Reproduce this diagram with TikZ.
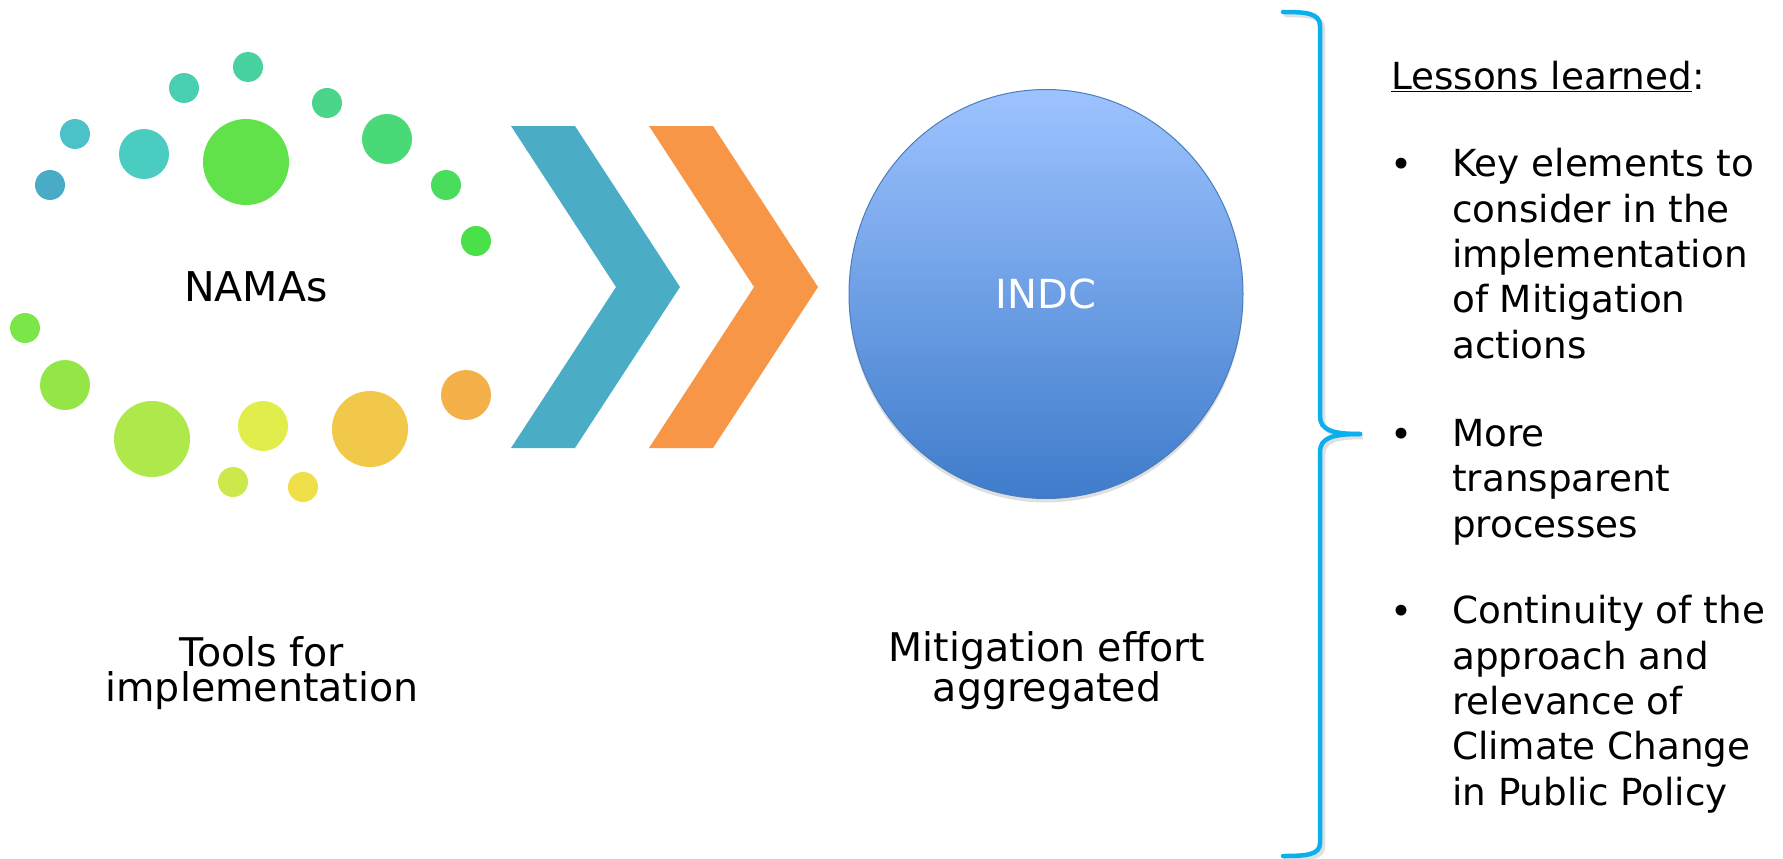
\documentclass[tikz,border=0pt]{standalone}
\usepackage{fontspec}
\setmainfont{DejaVu Sans}
\usetikzlibrary{positioning,shapes.geometric,shadows}

\definecolor{chevblue}{HTML}{4BACC6}
\definecolor{chevorange}{HTML}{F79646}
\definecolor{balltop}{HTML}{9DC3FF}
\definecolor{ballbottom}{HTML}{3F7CCB}
\definecolor{ballrim}{HTML}{4A7EBB}
\definecolor{bracecol}{HTML}{0AB0EE}

\tikzset{
  label/.style={inner sep=0pt, align=center, font=\fontsize{39.5}{35}\selectfont},
  listtext/.style={inner sep=0pt, anchor=base west, align=left, font=\fontsize{37.3}{45.3}\selectfont},
  indcball/.style={ellipse, minimum width=394pt, minimum height=409pt, draw=ballrim, line width=1pt,
    top color=balltop, bottom color=ballbottom, text=white, font=\fontsize{40}{40}\selectfont,
    drop shadow={shadow xshift=0pt, shadow yshift=-4pt, opacity=0.25}}
}

\begin{document}
\begin{tikzpicture}[x=1pt,y=-1pt]
  \useasboundingbox (0,0) rectangle (1783,859);

  % dots round NAMAs
  \fill[color={rgb,255:red,74;green,209;blue,160}] (248,67) circle (15pt);
  \fill[color={rgb,255:red,74;green,207;blue,178}] (184,88) circle (15pt);
  \fill[color={rgb,255:red,74;green,194;blue,200}] (75,134) circle (15pt);
  \fill[color={rgb,255:red,74;green,171;blue,198}] (50,185) circle (15pt);
  \fill[color={rgb,255:red,75;green,204;blue,192}] (144,154) circle (25pt);
  \fill[color={rgb,255:red,98;green,226;blue,74}] (246,162) circle (43pt);
  \fill[color={rgb,255:red,74;green,213;blue,138}] (327,103) circle (15pt);
  \fill[color={rgb,255:red,73;green,217;blue,119}] (387,139) circle (25pt);
  \fill[color={rgb,255:red,74;green,220;blue,92}] (446,185) circle (15pt);
  \fill[color={rgb,255:red,74;green,224;blue,74}] (476,241) circle (15pt);
  \fill[color={rgb,255:red,123;green,230;blue,71}] (25,328) circle (15pt);
  \fill[color={rgb,255:red,148;green,230;blue,72}] (65,385) circle (25pt);
  \fill[color={rgb,255:red,175;green,232;blue,74}] (152,439) circle (38pt);
  \fill[color={rgb,255:red,225;green,237;blue,74}] (263,426) circle (25pt);
  \fill[color={rgb,255:red,203;green,233;blue,74}] (233,482) circle (15pt);
  \fill[color={rgb,255:red,239;green,223;blue,73}] (303,487) circle (15pt);
  \fill[color={rgb,255:red,242;green,200;blue,74}] (370,429) circle (38pt);
  \fill[color={rgb,255:red,244;green,177;blue,74}] (466,395) circle (25pt);

  \node[label, font=\fontsize{41}{41}\selectfont] (namas) at (256,287) {NAMAs};

  % chevrons
  \fill[chevblue] (511,126) -- (575,126) -- (680,287) -- (575,448) -- (511,448) -- (616,287) -- cycle;
  \fill[chevorange] (649,126) -- (713,126) -- (818,287) -- (713,448) -- (649,448) -- (754,287) -- cycle;

  \node[indcball] (indc) at (1046,294) {INDC};

  % base of a two-line label is its last line
  \node[label, anchor=base] (tools) at (262,701) {Tools for\\implementation};
  \node[label, anchor=base] (effort) at (1047,701) {Mitigation effort\\aggregated};

  % brace, with a faint shadow
  \draw[black, opacity=0.12, line width=4.5pt, line cap=round, shift={(3,3)}]
    (1283,12) .. controls (1306,12) and (1320,13) .. (1320,26) -- (1320,416)
    .. controls (1320,430) and (1332,434) .. (1360,434)
    .. controls (1332,434) and (1320,438) .. (1320,452) -- (1320,843)
    .. controls (1320,855) and (1306,856) .. (1283,856);
  \draw[bracecol, line width=4.5pt, line cap=round]
    (1283,12) .. controls (1306,12) and (1320,13) .. (1320,26) -- (1320,416)
    .. controls (1320,430) and (1332,434) .. (1360,434);
  \draw[bracecol, line width=4.5pt, line cap=round]
    (1360,434) .. controls (1332,434) and (1320,438) .. (1320,452) -- (1320,843)
    .. controls (1320,855) and (1306,856) .. (1283,856);

  % lessons learned
  \node[listtext] (lessons) at (1391,89) {\underline{Lessons learned}:};
  \node[listtext] (dotA) at (1390,177) {\textbullet};
  \node[listtext] (itemA) at (1452,358) {Key elements to\\consider in the\\implementation\\of Mitigation\\actions};
  \node[listtext] (dotB) at (1390,447) {\textbullet};
  \node[listtext] (itemB) at (1452,537) {More\\transparent\\processes};
  \node[listtext] (dotC) at (1390,624) {\textbullet};
  \node[listtext] (itemC) at (1452,805) {Continuity of the\\approach and\\relevance of\\Climate Change\\in Public Policy};
\end{tikzpicture}
\end{document}
